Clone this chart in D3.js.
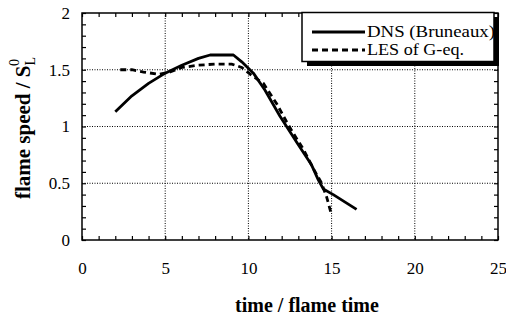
<!DOCTYPE html>
<html><head><meta charset="utf-8">
<script src="https://cdn.jsdelivr.net/npm/d3@7"></script>
<style>
body{margin:0;background:#fff;}
svg{display:block;}
svg text{font-family:"Liberation Serif","Times New Roman",serif !important;fill:#000;}
</style></head>
<body><svg id="c" width="506" height="321"></svg>
<script>
// ---- data ----
const dnsTime  = [2, 3, 4, 5, 6, 7, 7.7, 8.5, 9.1, 9.6, 10.3, 11, 11.9, 13, 13.8, 14.2, 14.5, 15.1, 16.5];
const dnsSpeed = [1.13, 1.27, 1.38, 1.47, 1.54, 1.60, 1.63, 1.63, 1.63, 1.57, 1.47, 1.32, 1.09, 0.84, 0.66, 0.53, 0.45, 0.40, 0.27];
const lesTime  = [2.3, 3, 3.7, 4.6, 5.3, 6, 7, 8, 9, 9.6, 10.2, 10.9, 11.7, 12.3, 12.7, 13.3, 13.9, 14.4, 14.7, 15];
const lesSpeed = [1.50, 1.50, 1.48, 1.46, 1.48, 1.52, 1.54, 1.55, 1.55, 1.52, 1.45, 1.38, 1.20, 1.04, 0.94, 0.80, 0.63, 0.50, 0.38, 0.22];
const xTicks = [0, 5, 10, 15, 20, 25];
const xTickLabels = ["0", "5", "10", "15", "20", "25"];
const yTicks = [0, 0.5, 1, 1.5, 2];
const yTickLabels = ["0", "0.5", "1", "1.5", "2"];
const seriesNames = ["DNS (Bruneaux)", "LES of G-eq."];

// ---- layout ----
const svg = d3.select("#c");
const L = 82, R = 498, T = 13, B = 240;
const x = d3.scaleLinear().domain([0, 25]).range([L, R]);
const y = d3.scaleLinear().domain([0, 2]).range([B, T]);

// gridlines
const grid = svg.append("g").attr("stroke", "#000").attr("stroke-width", 1).attr("stroke-dasharray", "1,1.5");
grid.selectAll(".gx").data(xTicks.slice(1, -1)).join("line")
  .attr("x1", d => x(d)).attr("x2", d => x(d)).attr("y1", T).attr("y2", B);
grid.selectAll(".gy").data(yTicks.slice(1, -1)).join("line")
  .attr("y1", d => y(d)).attr("y2", d => y(d)).attr("x1", L).attr("x2", R);

// minor ticks via axes
const xMinor = d3.range(0, 26, 1);
const yMinor = d3.range(0, 2.001, 0.1);
function minorAxis(axis, tr) {
  const g = svg.append("g").attr("transform", tr).call(axis);
  g.selectAll("text").remove();
  g.select(".domain").remove();
  g.selectAll("line").attr("stroke", "#000").attr("stroke-width", 1.2);
}
minorAxis(d3.axisBottom(x).tickValues(xMinor).tickSize(-4), `translate(0,${B})`);
minorAxis(d3.axisTop(x).tickValues(xMinor).tickSize(-4), `translate(0,${T})`);
minorAxis(d3.axisLeft(y).tickValues(yMinor).tickSize(-4), `translate(${L},0)`);
minorAxis(d3.axisRight(y).tickValues(yMinor).tickSize(-4), `translate(${R},0)`);

// frame
svg.append("rect").attr("x", L).attr("y", T).attr("width", R - L).attr("height", B - T)
  .attr("fill", "none").attr("stroke", "#000").attr("stroke-width", 1.5);

// tick labels
const xa = svg.append("g").attr("transform", `translate(0,${B})`)
  .call(d3.axisBottom(x).tickValues(xTicks).tickSize(0).tickPadding(22).tickFormat((d, i) => xTickLabels[i]));
xa.select(".domain").remove();
xa.selectAll("text").attr("font-size", 17);
const ya = svg.append("g").attr("transform", `translate(${L},0)`)
  .call(d3.axisLeft(y).tickValues(yTicks).tickSize(0).tickPadding(12).tickFormat((d, i) => yTickLabels[i]));
ya.select(".domain").remove();
ya.selectAll("text").attr("font-size", 17);

// lines
const line = d3.line().x(d => x(d[0])).y(d => y(d[1])).curve(d3.curveLinear);
const dns = dnsTime.map((t, i) => [t, dnsSpeed[i]]);
const les = lesTime.map((t, i) => [t, lesSpeed[i]]);
svg.append("path").datum(les).attr("d", line).attr("fill", "none").attr("stroke", "#000")
  .attr("stroke-width", 2.8).attr("stroke-dasharray", "6,4");
svg.append("path").datum(dns).attr("d", line).attr("fill", "none").attr("stroke", "#000")
  .attr("stroke-width", 2.8).attr("stroke-linejoin", "round");

// legend
const lg = svg.append("g");
lg.append("rect").attr("x", 307).attr("y", 17).attr("width", 192).attr("height", 49).attr("fill", "#000");
lg.append("rect").attr("x", 302).attr("y", 12.5).attr("width", 192).attr("height", 49)
  .attr("fill", "#fff").attr("stroke", "#000").attr("stroke-width", 1.5);
lg.append("line").attr("x1", 312).attr("x2", 365).attr("y1", 32).attr("y2", 32)
  .attr("stroke", "#000").attr("stroke-width", 2.8);
lg.append("line").attr("x1", 312).attr("x2", 365).attr("y1", 50).attr("y2", 50)
  .attr("stroke", "#000").attr("stroke-width", 2.8).attr("stroke-dasharray", "6,4");
lg.append("text").attr("x", 367).attr("y", 37).attr("font-size", 16)
  .attr("textLength", 128).attr("lengthAdjust", "spacingAndGlyphs").text(seriesNames[0]);
lg.append("text").attr("x", 367).attr("y", 55).attr("font-size", 16)
  .attr("textLength", 97).attr("lengthAdjust", "spacingAndGlyphs").text(seriesNames[1]);

// axis titles
svg.append("text").attr("x", 307).attr("y", 312).attr("text-anchor", "middle")
  .attr("font-size", 20).attr("font-weight", "bold").text("time / flame time");
const yt = svg.append("text").attr("transform", "translate(30,128) rotate(-90)")
  .attr("text-anchor", "middle").attr("font-size", 21).attr("font-weight", "bold");
yt.append("tspan").text("flame speed / S");
yt.append("tspan").attr("font-size", 14).attr("font-weight", "normal").attr("dy", 5).text("L");
yt.append("tspan").attr("font-size", 14).attr("font-weight", "normal").attr("dx", -9).attr("dy", -16).text("0");
</script></body></html>
